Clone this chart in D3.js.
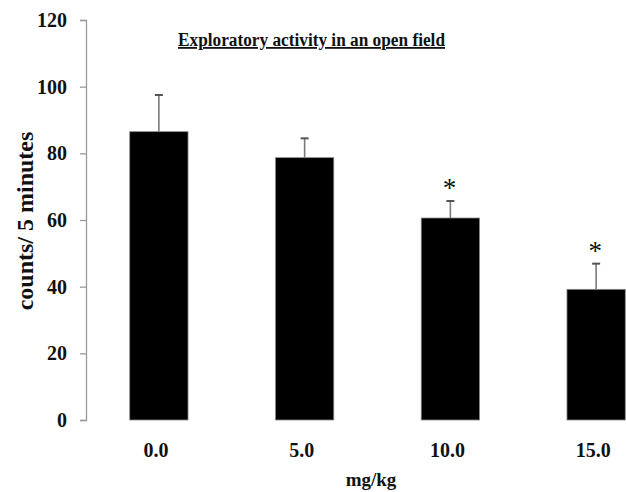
<!DOCTYPE html>
<html>
<head>
<meta charset="utf-8">
<script src="https://cdn.jsdelivr.net/npm/d3@7"></script>
<style>
html,body{margin:0;padding:0;background:#fff;}
svg{display:block;}
text{font-family:"Liberation Serif","Times New Roman",serif;font-weight:bold;fill:#111;}
text.star{font-weight:normal;}
</style>
</head>
<body>
<script>
const categories = ["0.0", "5.0", "10.0", "15.0"];
const means = [86.5, 78.7, 60.6, 39.2];
const errors = [11.0, 5.8, 5.1, 7.7];
const significant = [false, false, true, true];
const yTicks = [0, 20, 40, 60, 80, 100, 120];
const titleText = "Exploratory activity in an open field";
const xTitle = "mg/kg";
const yTitle = "counts/ 5 minutes";

const W = 626, H = 492;
const svg = d3.select("body").append("svg").attr("width", W).attr("height", H);

const y = d3.scaleLinear().domain([0, 120]).range([420, 20]);
const x = d3.scaleBand().domain(categories).range([86, 669]).paddingInner(0.6).paddingOuter(0.3);

// y axis
const yAxis = d3.axisLeft(y).tickValues(yTicks).tickSize(6).tickPadding(13).tickFormat(d3.format("d"));
const gy = svg.append("g").attr("transform", "translate(86,0)").call(yAxis);
gy.select(".domain").attr("stroke", "#9a9a9a").attr("stroke-width", 1.3);
gy.selectAll(".tick line").attr("stroke", "#9a9a9a").attr("stroke-width", 1.3);
gy.selectAll(".tick text").attr("font-size", 20).attr("fill", "#111");

// bars
const data = categories.map((c, i) => ({c, m: means[i], e: errors[i], s: significant[i]}));
svg.selectAll("rect.bar").data(data).enter().append("rect")
  .attr("class", "bar")
  .attr("x", d => x(d.c))
  .attr("y", d => y(d.m))
  .attr("width", x.bandwidth())
  .attr("height", d => y(0) - y(d.m))
  .attr("fill", "#000")
  .attr("stroke", "#888").attr("stroke-width", 0.8);

// error bars
const eg = svg.selectAll("g.err").data(data).enter().append("g").attr("class", "err");
eg.append("line")
  .attr("x1", d => x(d.c) + x.bandwidth() / 2)
  .attr("x2", d => x(d.c) + x.bandwidth() / 2)
  .attr("y1", d => y(d.m))
  .attr("y2", d => y(d.m + d.e))
  .attr("stroke", "#7a7a7a").attr("stroke-width", 1.6);
eg.append("line")
  .attr("x1", d => x(d.c) + x.bandwidth() / 2 - 4)
  .attr("x2", d => x(d.c) + x.bandwidth() / 2 + 4)
  .attr("y1", d => y(d.m + d.e))
  .attr("y2", d => y(d.m + d.e))
  .attr("stroke", "#555").attr("stroke-width", 2);

// significance stars
svg.selectAll("text.star").data(data.filter(d => d.s)).enter().append("text")
  .attr("class", "star")
  .attr("x", d => x(d.c) + x.bandwidth() / 2 - 1)
  .attr("y", d => y(d.m + d.e) - 4)
  .attr("text-anchor", "middle")
  .attr("font-size", 27)
  .text("*");

// x labels
svg.selectAll("text.xl").data(categories).enter().append("text")
  .attr("class", "xl")
  .attr("x", d => x(d) + x.bandwidth() / 2 - 3)
  .attr("y", 457)
  .attr("text-anchor", "middle")
  .attr("font-size", 20)
  .text(d => d);

// x title
svg.append("text").attr("x", 371).attr("y", 486).attr("text-anchor", "middle")
  .attr("font-size", 19).text(xTitle);

// y title
svg.append("text")
  .attr("transform", "translate(33,221) rotate(-90)")
  .attr("text-anchor", "middle")
  .attr("font-size", 24)
  .text(yTitle);

// title
svg.append("text").attr("x", 178).attr("y", 46)
  .attr("font-size", 18)
  .attr("textLength", 267).attr("lengthAdjust", "spacingAndGlyphs")
  .attr("text-decoration", "underline")
  .text(titleText);
</script>
</body>
</html>
